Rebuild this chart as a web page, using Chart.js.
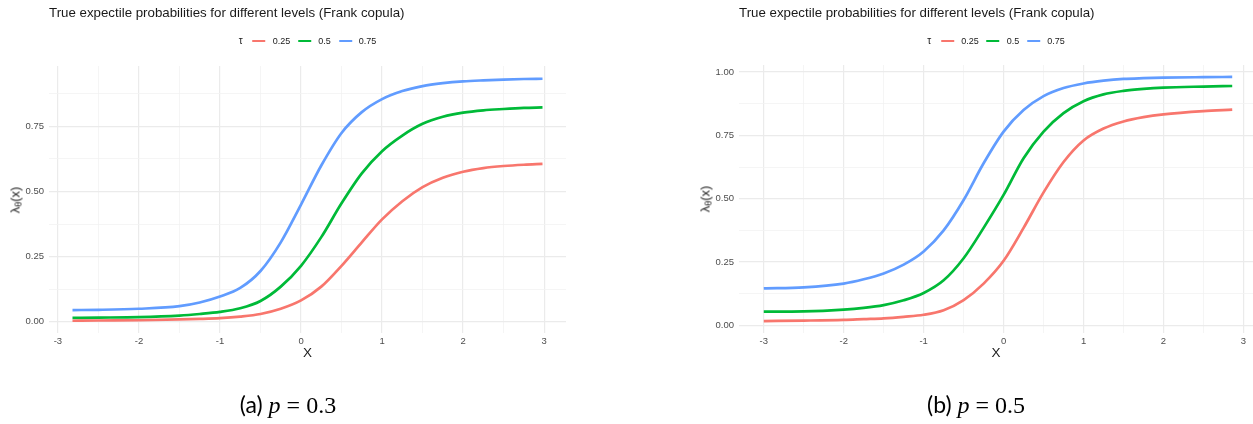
<!DOCTYPE html>
<html>
<head>
<meta charset="utf-8">
<script src="https://cdn.jsdelivr.net/npm/chart.js@4.4.1/dist/chart.umd.min.js"></script>
<style>
  html, body { margin: 0; padding: 0; background: #fff; }
  body { width: 1253px; height: 424px; position: relative; overflow: hidden;
         font-family: "Liberation Sans", Arial, sans-serif; }
  .abs { position: absolute; white-space: nowrap; }
  .title { font-size: 13.3px; color: #1a1a1a; line-height: 1; }
  .legend { font-size: 9px; color: #1a1a1a; display: flex; align-items: center; line-height: 1; transform: translateX(-50%); }
  .legend .key { display: inline-block; width: 13px; height: 2.8px; margin: 0 7px 0 8px; }
  .legend .tau { font-size: 10px; margin-right: 2px; }
  .ytitle { font-size: 13px; color: #1a1a1a; transform: translate(-50%, -50%) rotate(-90deg); line-height: 1; }
  .ytitle sub { font-size: 9px; vertical-align: -2px; }
  .xtitle { font-size: 13.5px; color: #1a1a1a; transform: translate(-50%, -50%); line-height: 1; }
  .caption { font-size: 23px; color: #000; transform: translate(-50%, -50%); line-height: 1;
             font-family: "Lato", "Open Sans", sans-serif; }
  .caption .m { font-family: "Liberation Serif", "DejaVu Serif", serif; font-size: 24px; }
  canvas { position: absolute; top: 0; }
</style>
</head>
<body>
<script>
// Legend levels and colours
const tauLevels = ['0.25', '0.5', '0.75'];
const tauColors = ['#F8766D', '#00BA38', '#619CFF'];

// Panel (a): p = 0.3
const xA = [-2.82, -2.5, -2, -1.5, -1.25, -1, -0.75, -0.5, -0.25, 0, 0.25, 0.5, 0.75, 1, 1.25, 1.5, 1.75, 2, 2.25, 2.5, 2.75, 2.98];
const a_tau025 = [0.004, 0.005, 0.006, 0.009, 0.011, 0.014, 0.020, 0.030, 0.050, 0.082, 0.135, 0.215, 0.305, 0.393, 0.463, 0.517, 0.553, 0.576, 0.590, 0.598, 0.603, 0.606];
const a_tau05  = [0.015, 0.016, 0.018, 0.024, 0.030, 0.038, 0.052, 0.080, 0.135, 0.215, 0.325, 0.455, 0.570, 0.655, 0.715, 0.760, 0.787, 0.803, 0.812, 0.817, 0.821, 0.823];
const a_tau075 = [0.045, 0.046, 0.050, 0.060, 0.074, 0.097, 0.130, 0.195, 0.305, 0.450, 0.600, 0.725, 0.805, 0.855, 0.886, 0.905, 0.916, 0.923, 0.927, 0.930, 0.932, 0.933];

// Panel (b): p = 0.5
const xB = [-3, -2.5, -2, -1.75, -1.5, -1.25, -1, -0.75, -0.5, -0.25, 0, 0.25, 0.5, 0.75, 1, 1.25, 1.5, 1.75, 2, 2.5, 2.86];
const b_tau025 = [0.017, 0.019, 0.022, 0.025, 0.028, 0.034, 0.042, 0.060, 0.100, 0.165, 0.255, 0.385, 0.525, 0.645, 0.730, 0.777, 0.805, 0.822, 0.833, 0.846, 0.852];
const b_tau05  = [0.054, 0.055, 0.062, 0.069, 0.080, 0.099, 0.128, 0.178, 0.265, 0.385, 0.515, 0.660, 0.765, 0.838, 0.885, 0.912, 0.926, 0.934, 0.939, 0.943, 0.945];
const b_tau075 = [0.146, 0.150, 0.165, 0.182, 0.205, 0.240, 0.292, 0.375, 0.495, 0.640, 0.765, 0.850, 0.905, 0.937, 0.955, 0.966, 0.973, 0.976, 0.978, 0.980, 0.981];

// Gridline positions (majors get labels, minors are plain lines)
const xTicks = [-3, -2.5, -2, -1.5, -1, -0.5, 0, 0.5, 1, 1.5, 2, 2.5, 3];
const yTicks = [0, 0.125, 0.25, 0.375, 0.5, 0.625, 0.75, 0.875, 1];

const titleText = 'True expectile probabilities for different levels (Frank copula)';

function isMultiple(v, step) { return Math.abs(v / step - Math.round(v / step)) < 1e-6; }

function addEl(cls, html, left, top) {
  const d = document.createElement('div');
  d.className = 'abs ' + cls;
  d.innerHTML = html;
  d.style.left = left + 'px';
  d.style.top = top + 'px';
  document.body.appendChild(d);
  return d;
}

function buildPanel(p) {
  const canvas = document.createElement('canvas');
  canvas.width = p.canvasW; canvas.height = p.canvasH;
  canvas.style.left = p.canvasLeft + 'px';
  canvas.style.width = p.canvasW + 'px'; canvas.style.height = p.canvasH + 'px';
  document.body.appendChild(canvas);

  const datasets = p.series.map((ys, i) => ({
    label: tauLevels[i],
    data: p.xs.map((x, k) => ({ x: x, y: ys[k] })),
    borderColor: tauColors[i],
    borderWidth: 2.7,
    pointRadius: 0,
    fill: false,
    cubicInterpolationMode: 'monotone'
  }));

  const gridStyle = (step) => ({
    color: (ctx) => (ctx.tick && isMultiple(ctx.tick.value, step)) ? '#ebebeb' : '#f3f3f3',
    lineWidth: (ctx) => (ctx.tick && isMultiple(ctx.tick.value, step)) ? 1.2 : 0.8,
    drawTicks: false
  });

  new Chart(canvas, {
    type: 'line',
    data: { datasets: datasets },
    options: {
      responsive: false,
      animation: false,
      devicePixelRatio: 1,
      layout: { padding: { top: p.plotTop, right: p.canvasW - (p.plotRight - p.canvasLeft), bottom: 0, left: 0 } },
      plugins: { legend: { display: false }, title: { display: false }, tooltip: { enabled: false } },
      scales: {
        x: {
          type: 'linear', min: p.xMin, max: p.xMax,
          afterBuildTicks: (s) => { s.ticks = xTicks.filter(v => v >= p.xMin && v <= p.xMax).map(v => ({ value: v })); },
          afterFit: (s) => { s.height = p.canvasH - p.plotBottom; },
          grid: gridStyle(1),
          border: { display: false },
          ticks: {
            autoSkip: false, maxRotation: 0, padding: 3,
            color: '#4d4d4d', font: { family: 'Liberation Sans', size: 9.5 },
            callback: (v) => isMultiple(v, 1) ? String(Math.round(v)) : ''
          }
        },
        y: {
          type: 'linear', min: p.yMin, max: p.yMax,
          afterBuildTicks: (s) => { s.ticks = yTicks.filter(v => v >= p.yMin && v <= p.yMax).map(v => ({ value: v })); },
          afterFit: (s) => { s.width = p.plotLeft - p.canvasLeft; },
          grid: gridStyle(0.25),
          border: { display: false },
          ticks: {
            autoSkip: false, padding: 5,
            color: '#4d4d4d', font: { family: 'Liberation Sans', size: 9.5 },
            callback: (v) => isMultiple(v, 0.25) ? v.toFixed(2) : ''
          }
        }
      }
    }
  });

  const cx = (p.plotLeft + p.plotRight) / 2;
  addEl('title', titleText, p.plotLeft, 6);

  let lg = '<span class="tau">τ</span>';
  tauLevels.forEach((t, i) => {
    lg += '<span class="key" style="background:' + tauColors[i] + '"></span><span>' + t + '</span>';
  });
  addEl('legend', lg, cx, 36);

  addEl('ytitle', 'λ<sub>θ</sub>(x)', p.yTitleX, (p.plotTop + p.plotBottom) / 2);
  addEl('xtitle', 'X', cx, 353);
  addEl('caption', p.caption, p.captionX, 405);
}

buildPanel({
  canvasLeft: 0, canvasW: 575, canvasH: 360,
  plotLeft: 49, plotRight: 566, plotTop: 66, plotBottom: 333,
  xMin: -3.11, xMax: 3.27, yMin: -0.043, yMax: 0.982,
  xs: xA, series: [a_tau025, a_tau05, a_tau075],
  yTitleX: 16, captionX: 288,
  caption: '(a) <span class="m"><i>p</i> = 0.3</span>'
});

buildPanel({
  canvasLeft: 690, canvasW: 563, canvasH: 360,
  plotLeft: 739, plotRight: 1253, plotTop: 65, plotBottom: 333,
  xMin: -3.31, xMax: 3.12, yMin: -0.03, yMax: 1.028,
  xs: xB, series: [b_tau025, b_tau05, b_tau075],
  yTitleX: 706, captionX: 976,
  caption: '(b) <span class="m"><i>p</i> = 0.5</span>'
});
</script>
</body>
</html>
